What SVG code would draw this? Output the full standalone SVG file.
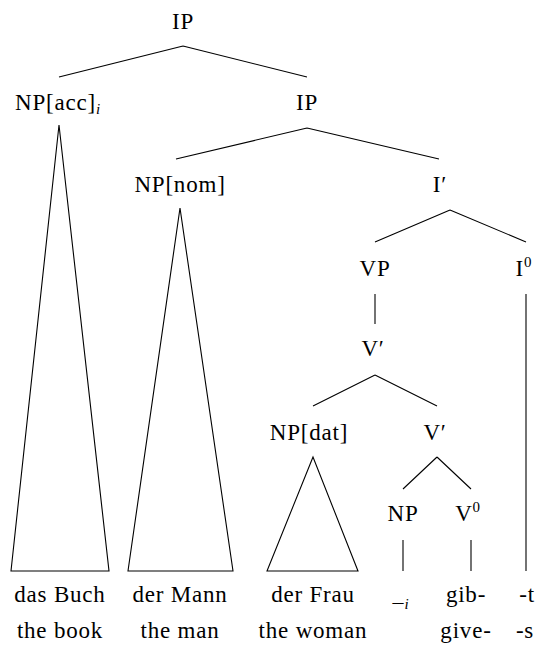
<svg xmlns="http://www.w3.org/2000/svg" width="537" height="646" viewBox="0 0 537 646">
<style>
text{font-family:'Liberation Serif','DejaVu Serif',serif;font-size:23px;letter-spacing:0.8px;fill:#000;text-anchor:middle}
.sub{font-size:15px;font-style:italic}
.sup{font-size:15px}
.e{fill:none;stroke:#000;stroke-width:1.1}
</style>
<rect width="537" height="646" fill="#fff"/>
<g id="connectors">
<path class="e" d="M183 46 L59 77 M183 46 L307 77"/>
<path class="e" d="M307 128 L176 159 M307 128 L439 159"/>
<path class="e" d="M59 125 L11 571 L109 571 Z"/>
<path class="e" d="M180 208 L128 571 L233 571 Z"/>
<path class="e" d="M450 210 L375 242 M450 210 L526 242"/>
<path class="e" d="M375 294 L375 324"/>
<path class="e" d="M526 294 L526 571"/>
<path class="e" d="M375 375 L313 406 M375 375 L437 406"/>
<path class="e" d="M313 457 L267 571 L358 571 Z"/>
<path class="e" d="M437 457 L403 489 M437 457 L471 489"/>
<path class="e" d="M403 540 L403 571"/>
<path class="e" d="M471 540 L471 571"/>
</g>
<g font-family="Liberation Serif, DejaVu Serif, serif">
<g id="ip-top"><text x="183" y="29">IP</text></g>
<g id="np-acc"><text x="58" y="110">NP[acc]<tspan class="sub" dy="4">i</tspan></text></g>
<g id="ip-2"><text x="307" y="110">IP</text></g>
<g id="np-nom"><text x="180" y="192">NP[nom]</text></g>
<g id="i-bar"><text x="440" y="192">I′</text></g>
<g id="vp"><text x="375" y="276">VP</text></g>
<g id="i0"><text x="524" y="276">I<tspan class="sup" dy="-9">0</tspan></text></g>
<g id="v-bar-1"><text x="373" y="356">V′</text></g>
<g id="np-dat"><text x="309" y="440">NP[dat]</text></g>
<g id="v-bar-2"><text x="435" y="440">V′</text></g>
<g id="np-trace"><text x="403" y="521">NP</text></g>
<g id="v0"><text x="468" y="521">V<tspan class="sup" dy="-9">0</tspan></text></g>
<g id="leaf-das-buch"><text x="60" y="602">das Buch</text><text x="60" y="638">the book</text></g>
<g id="leaf-der-mann"><text x="180" y="602">der Mann</text><text x="180" y="638">the man</text></g>
<g id="leaf-der-frau"><text x="313" y="602">der Frau</text><text x="313" y="638">the woman</text></g>
<g id="leaf-trace"><text x="401" y="609"><tspan style="font-size:22px">–</tspan><tspan class="sub">i</tspan></text></g>
<g id="leaf-gib"><text x="466" y="602">gib-</text><text x="466" y="638">give-</text></g>
<g id="leaf-t"><text x="527" y="602">-t</text><text x="525" y="638">-s</text></g>
</g>
</svg>
